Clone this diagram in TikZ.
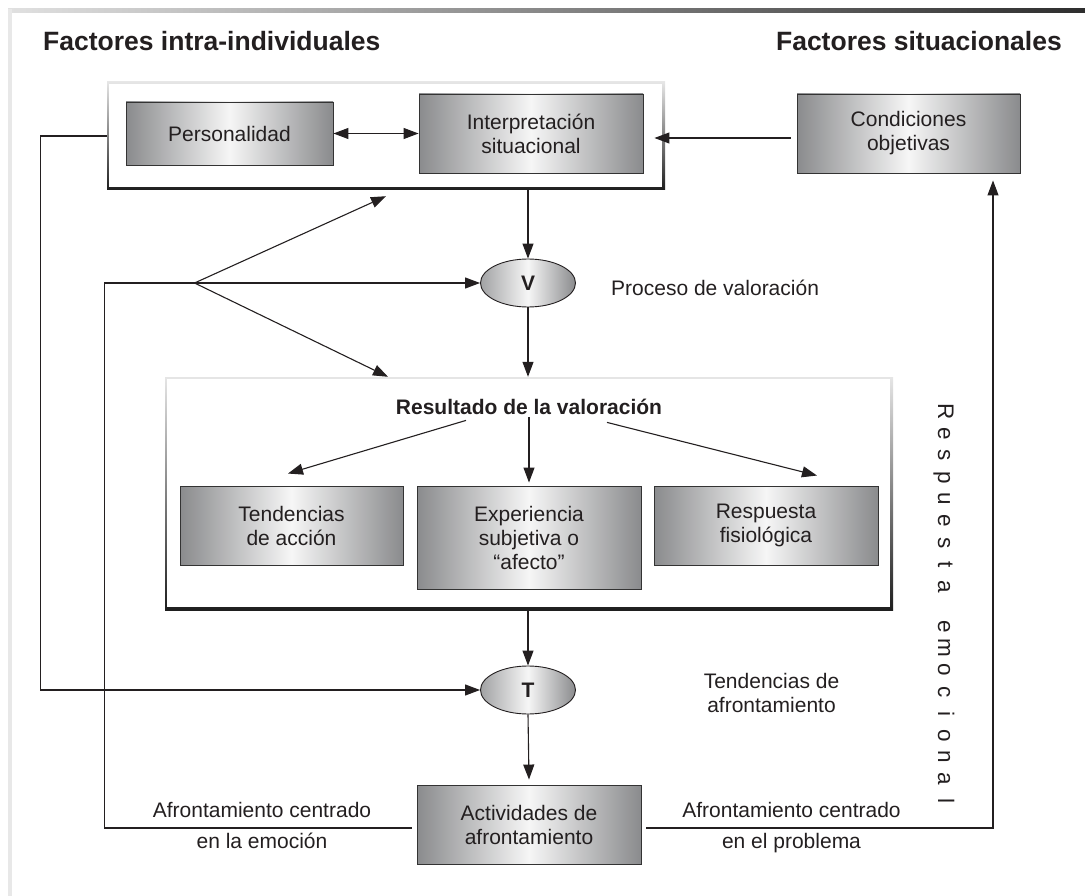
\documentclass[tikz,border=0pt]{standalone}
\usepackage{fontspec}
\setmainfont{Liberation Sans}
\usetikzlibrary{arrows.meta,shapes.geometric}

\definecolor{ink}{HTML}{231F20}
\definecolor{boxedge}{HTML}{333333}
\definecolor{shadeout}{HTML}{8A8B8D}
\definecolor{shadein}{HTML}{F6F6F6}

% one letter of the spaced vertical caption
\newcommand\spacedltr[1]{\makebox[21.8pt]{#1}}

\tikzset{
  arr/.style={draw=ink, line width=1.1pt, -{Triangle[length=15pt,width=11pt]}},
  dblarr/.style={draw=ink, line width=1.1pt,
    {Triangle[length=15pt,width=11pt]}-{Triangle[length=15pt,width=11pt]}},
  gbox/.style={rectangle, draw=boxedge, line width=0.9pt,
    left color=shadeout, right color=shadeout, middle color=shadein,
    text=ink, align=center, inner sep=0pt,
    font=\fontsize{21}{24}\selectfont},
  gell/.style={ellipse, draw=ink, line width=0.9pt,
    left color=shadeout!80, right color=shadeout, middle color=shadein,
    minimum width=95pt, minimum height=48pt, inner sep=0pt, text=ink,
    font=\bfseries\fontsize{21}{24}\selectfont},
  frame/.style={rectangle, inner sep=0pt, top color=black!10, bottom color=black!88,
    path picture={\fill[white]
      ([shift={(2.2pt,-2.2pt)}]path picture bounding box.north west) rectangle
      ([shift={(-2.6pt,2.6pt)}]path picture bounding box.south east);}},
  lbl/.style={text=ink, inner sep=0pt, align=center,
    font=\fontsize{21}{24}\selectfont},
  head/.style={text=ink, inner sep=0pt, font=\bfseries\fontsize{26.5}{30}\selectfont},
}

\begin{document}
\begin{tikzpicture}[x=1pt, y=-1pt]
\useasboundingbox (0,0) rectangle (1085,896);

% page rule along the top and the left
\shade[left color=black!12, right color=black!82] (8,9) rectangle (1085,12.5);
\fill[black!9] (8,9) rectangle (11.5,896);

% headings
\node[head, anchor=base west] (hl) at (43,51) {Factores intra-individuales};
\node[head, anchor=base east] (hr) at (1062,51) {Factores situacionales};

% grouping frames
\node[frame, minimum width=558pt, minimum height=108pt] (g1) at (386,136) {};
\node[frame, minimum width=728pt, minimum height=233pt] (res) at (529,493.5) {};

% boxes
\node[gbox, minimum width=207pt, minimum height=63pt] (pers) at (229.5,133.5) {Personalidad};
\node[gbox, minimum width=224pt, minimum height=79pt] (interp) at (531,133.5) {Interpretación\\situacional};
\node[gbox, minimum width=223pt, minimum height=79pt] (cond) at (908.5,133.5) {Condiciones\\objetivas};

\node[gell] (V) at (528,283) {V};
\node[lbl, anchor=west] (proc) at (611,288) {Proceso de valoración};

\node[lbl, anchor=base, font=\bfseries\fontsize{21}{24}\selectfont] (rtxt) at (529,414) {Resultado de la valoración};

\node[gbox, minimum width=223pt, minimum height=79pt] (tend) at (291.5,525.5) {Tendencias\\de acción};
\node[gbox, minimum width=224pt, minimum height=103pt] (exp) at (529,537.5) {Experiencia\\subjetiva o\\“afecto”};
\node[gbox, minimum width=224pt, minimum height=79pt] (resp) at (766,525.5) {Respuesta\\fisiológica};

\node[gell] (T) at (528,690) {T};
\node[lbl] (taf) at (771.5,693) {Tendencias de\\afrontamiento};

\node[gbox, minimum width=224pt, minimum height=79pt] (act) at (529,824.5) {Actividades de\\afrontamiento};

\node[lbl, anchor=base] (la1) at (262,817) {Afrontamiento centrado};
\node[lbl, anchor=base] (la2) at (262,848) {en la emoción};
\node[lbl, anchor=base] (ra1) at (791.5,817) {Afrontamiento centrado};
\node[lbl, anchor=base] (ra2) at (791.5,848) {en el problema};

% vertical caption
\node[lbl, rotate=-90, font=\fontsize{22.5}{24}\selectfont] (remo) at (944,606.4) {\spacedltr{R}\spacedltr{e}\spacedltr{s}\spacedltr{p}\spacedltr{u}\spacedltr{e}\spacedltr{s}\spacedltr{t}\spacedltr{a}\hspace{18.2pt}\spacedltr{e}\spacedltr{m}\spacedltr{o}\spacedltr{c}\spacedltr{i}\spacedltr{o}\spacedltr{n}\spacedltr{a}\spacedltr{l}};

% connectors
\draw[dblarr] (pers.east) -- (interp.west);
\draw[arr] ([xshift=-6pt,yshift=-4.5pt]cond.west) -- ([xshift=11pt,yshift=-4.5pt]interp.east);
\draw[arr] (g1.south -| V.north) -- (V.north);
\draw[arr] (V.south) -- (V.south |- res.north);

\draw[arr] ([xshift=-63pt,yshift=-6pt]rtxt.south) -- ([xshift=-3.5pt,yshift=12pt]tend.north);
\draw[arr] ([yshift=-3pt]rtxt.south) -- ([yshift=3pt]exp.north);
\draw[arr] ([xshift=78pt,yshift=-8pt]rtxt.south) -- ([xshift=51pt,yshift=10pt]resp.north);

\draw[arr] (res.south -| T.north) -- (T.north);
\draw[arr] (T.south) -- ([yshift=5pt]act.north);

% loop from the upper frame into T
\draw[arr] (g1.west) -- ([xshift=-66pt]g1.west) |- (T.west);

% emotion-focused coping loop back into V
\draw[arr] ([xshift=-5pt,yshift=-3.5pt]act.west) -| ([xshift=-375.5pt]V.west) -- (V.west);
\coordinate (fan) at ([xshift=-285.5pt]V.west);
\draw[arr] (fan) -- ([yshift=-6pt]g1.south);
\draw[arr] (fan) -- ([xshift=-141pt]res.north);

% problem-focused coping loop back to the situation
\draw[arr] ([xshift=5pt,yshift=-3.5pt]act.east) -| ([xshift=84.5pt,yshift=-7pt]cond.south);
\end{tikzpicture}
\end{document}
